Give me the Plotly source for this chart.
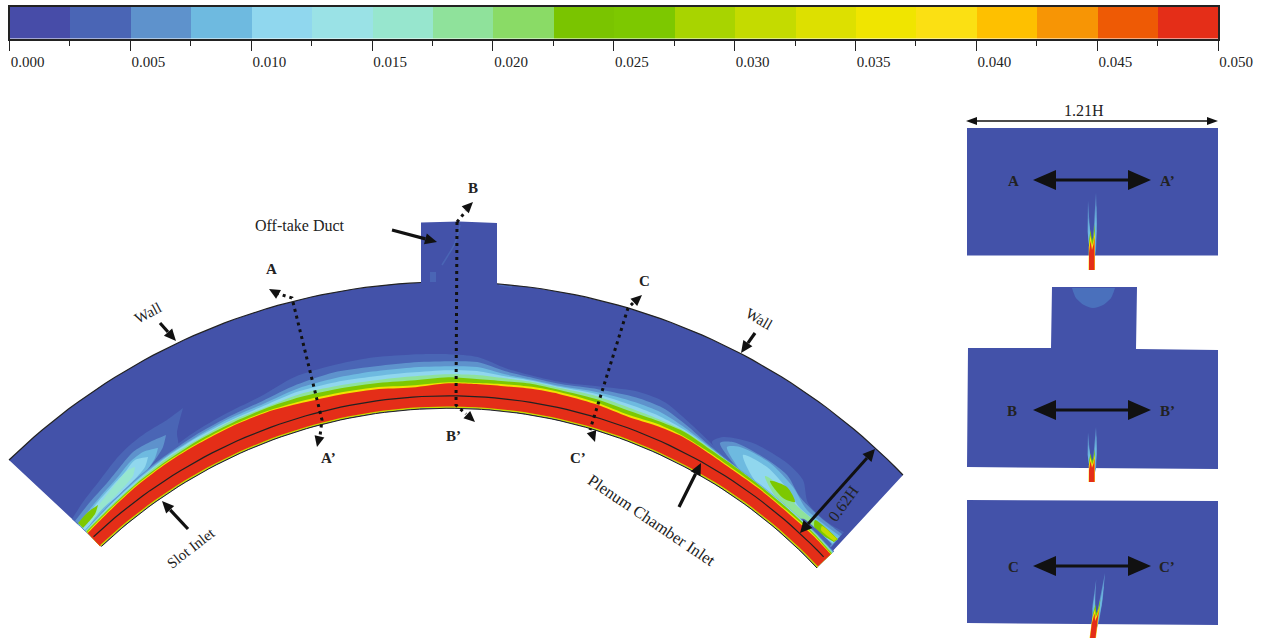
import math
import plotly.graph_objects as go

# ---------- colour scale ----------
LEVEL_COLORS = ["#474CA8", "#4A65B5", "#5E92CC", "#6EBAE0", "#90D7EE", "#9AE2E6", "#97E6CE", "#8FE29B", "#8ADB66", "#7AC400",
                "#7DC800", "#A8D400", "#C4DB00", "#DDE000", "#F0E500", "#FBE013", "#FEC000", "#F79505", "#EE5A05", "#E42E18"]
LEVEL_EDGES = [0.0025 * i for i in range(21)]
TICK_VALUES = [0.000, 0.005, 0.010, 0.015, 0.020, 0.025, 0.030, 0.035, 0.040, 0.045, 0.050]
TICK_LABELS = ["0.000", "0.005", "0.010", "0.015", "0.020", "0.025", "0.030", "0.035", "0.040", "0.045", "0.050"]

# ---------- arch geometry (picture units) ----------
CENTER = (448.5, 913.3)
R_INNER, R_OUTER, R_MID = 505, 631.4, 517.5
DOMAIN_BG = "#4352A9"
END_LEFT = [(9, 460), (102, 547)]
END_RIGHT = [(903, 475), (817, 568)]
DUCT_X = [421, 459, 497, 497, 421]
DUCT_Y = [222.5, 221.5, 223, 284, 284]

# band contours: angle from vertical, height of each level above the inner wall
THETA = [-43.5, -40, -36, -32, -28, -24, -20, -16, -12, -8, -4, 0, 3, 6, 9, 12, 16, 20, 23, 26, 29, 32, 36, 40, 44, 46.8]
H_FAINT = [24, 27, 31, 35, 39, 42, 45, 53, 55, 56, 55, 54, 52, 43, 39, 38, 43, 50, 50, 42, 34, 28, 26, 25, 25, 24]
H_MID = [23, 26, 30, 33, 36, 38, 40, 45, 48, 47, 47, 47, 47, 40, 37, 36, 40, 44, 44, 38, 31, 27, 25, 24, 24, 23]
H_LIGHT = [23, 25, 29, 32, 34, 36, 37, 41, 42, 42, 42, 42, 42, 37, 35, 34, 37, 39, 39, 35, 30, 26, 25, 24, 23, 23]
H_CYAN = [22, 25, 28, 31, 33, 34, 35, 38, 38, 37, 37, 38, 38, 35, 34, 33, 35, 35, 35, 33, 29, 26, 24, 24, 23, 22]
H_LTGREEN = [22, 24, 27, 30, 31, 33, 33, 35, 34, 33, 33, 34, 34, 33, 33, 32, 33, 32, 32, 32, 29, 26, 24, 23, 23, 22]
H_GREEN = [21, 23, 26, 28, 30, 31, 32, 32, 31, 30, 29, 31, 30, 30, 31, 30, 30, 29, 30, 31, 28, 26, 24, 23, 22, 21]
H_YELLOW = [20, 22, 25, 27, 28, 29, 29, 28, 27, 26, 24, 26, 26, 27, 28, 28, 27, 25, 27, 27, 25, 23, 22, 21, 21, 20]
H_RED = [19, 21, 24, 26, 27, 28, 28, 26, 25, 24, 22, 25, 25, 25, 26, 26, 25, 23, 25, 26, 24, 22, 21, 20, 20, 19.5]

# plumes (picture units); repeated points keep a sharp corner on the end edge
LEFT_PLUME = [
    (1, [(183, 408), (183, 408), (167, 420), (147, 432), (130, 445), (117, 458), (100, 480), (83, 502), (72, 519), (72, 519),
         (92, 537), (92, 537), (115, 510), (140, 482), (165, 457), (178, 445), (177, 433)]),
    (2, [(166, 435), (166, 435), (150, 442), (133, 452), (120, 467), (107, 483), (90, 502), (75, 521), (75, 521), (90, 535), (90, 535),
         (110, 510), (127, 492), (143, 475), (155, 460), (163, 447)]),
    (3, [(158, 448), (158, 448), (143, 452), (130, 462), (117, 478), (100, 497), (78, 524), (78, 524), (88, 533), (88, 533), (97, 518),
         (117, 500), (133, 484), (147, 470), (155, 458)]),
    (4, [(148, 457), (148, 457), (135, 460), (125, 472), (113, 485), (97, 503), (80, 526), (80, 526), (86, 531), (86, 531), (100, 511),
         (120, 494), (135, 479), (145, 467)]),
    (6, [(135, 467), (135, 467), (128, 470), (113, 487), (97, 507), (87, 518), (90, 522), (103, 508), (120, 491), (133, 476)]),
    (10, [(98, 505), (98, 505), (88, 512), (78, 523), (78, 523), (83, 528), (83, 528), (95, 514)]),
]
LEFT_GAP = [(118, 500), (118, 500), (87, 532), (87, 532), (90, 535), (90, 535), (122, 503), (122, 503)]
RIGHT_PLUME = [
    (1, [(712, 442), (723, 437), (753, 443), (787, 463), (803, 480), (808, 503), (827, 522), (844, 532), (844, 532), (831, 548), (831, 548), (800, 517), (767, 490), (733, 467)]),
    (2, [(720, 443), (733, 442), (763, 457), (787, 475), (800, 497), (820, 517), (842, 534), (842, 534), (831, 547), (831, 547), (793, 517), (760, 490), (733, 463)]),
    (3, [(727, 447), (740, 447), (770, 463), (793, 487), (807, 510), (840, 536), (840, 536), (832, 545), (832, 545), (787, 513), (753, 487), (733, 460)]),
    (4, [(743, 455), (767, 467), (788, 490), (800, 508), (838, 538), (838, 538), (833, 543), (833, 543), (777, 502), (753, 478)]),
    (7, [(765, 476), (783, 488), (797, 506), (838, 539), (838, 539), (834, 542), (834, 542), (795, 514), (775, 496)]),
    (10, [(770, 481), (787, 487), (795, 502), (783, 498)]),
    (10, [(815, 520), (838, 539), (838, 539), (834, 542), (834, 542), (815, 529)]),
    (12, [(822, 526), (837, 539), (837, 539), (834, 541), (834, 541), (821, 530)]),
]
RIGHT_GAP = [(800, 519), (800, 519), (829, 547), (829, 547), (832, 544), (832, 544), (804, 519)]
DUCT_MARKS = [[(460, 225), (455, 243), (447, 257), (442, 265)], [(499, 285), (512, 287)]]
DUCT_BLOB_X = [430, 436, 436, 430]
DUCT_BLOB_Y = [282, 282, 272, 272]

# side panels
PANEL_A = [(967, 128), (1218, 128), (1218, 255.5), (967, 255.5)]
PANEL_B = [(1052, 287), (1137, 287), (1136, 349), (1218, 350), (1218, 469), (967, 467), (968, 348), (1051, 348)]
PANEL_C = [(967, 500), (1218, 501), (1218, 625), (967, 623)]
BLOB_B = [(1072, 288), (1072, 288), (1076, 298), (1084, 305), (1093, 308), (1103, 305), (1111, 298), (1115, 288), (1115, 288)]

# jet layers: (colour level, points as sideways offset, fraction of jet height)
JET_LAYERS = [
    (2, [(-2, .2), (-4.5, .5), (-4, .9), (-2.5, .6), (0, .3)]),
    (2, [(0, .2), (2, .6), (4, 1.0), (5, .6), (4, .25), (2, .1)]),
    (3, [(-2, .2), (-4, .45), (-3.5, .68), (-2, .45), (0, .25)]),
    (3, [(1, .2), (3, .6), (4.2, .85), (4.5, .5), (3, .2)]),
    (10, [(-3, .18), (-3, .38), (-1.5, .52), (0, .38), (1.5, .44), (2.5, .6), (3, .4), (2.5, .2)]),
    (15, [(-3.5, 0), (-3.2, .3), (-1.5, .45), (0, .32), (1.5, .38), (2.7, .5), (3, .3), (3, 0)]),
    (19, [(-3, 0), (-3, .22), (-1.5, .38), (0, .26), (1.5, .33), (2.5, .43), (2.5, .25), (2.5, 0)]),
]
JETS = [(1092, 270, 77, 0), (1092, 482, 55, 0), (1093, 638, 65, 8)]

# annotation geometry
BLACK = "#111111"
DOT_A = [(276, 293), (292, 298), (322, 420), (320, 436)]
DOT_B = [(457, 222), (456, 405), (466, 414)]
DOT_B_TOP = [(457, 222), (466, 211)]
DOT_C = [(633, 303), (628, 308), (590, 430)]
DOT_HEADS = [((276, 293), (269, 289)), ((320, 434), (317, 447)), ((465, 413), (475, 422)),
             ((462, 213), (473, 202)), ((632, 304), (642, 295)), ((591, 430), (595, 442))]
ARROWS = [((392, 230), (437, 242)), ((160, 323), (176, 341)), ((755, 333), (741, 353)),
          ((188, 529), (162, 501)), ((679, 507), (701, 463))]
DOUBLE_LARGE = [((1033, 180), (1151, 180)), ((1033, 410), (1151, 410)), ((1033, 566), (1151, 566))]
DOUBLE_DIM = [((800, 533), (875, 449)), ((966, 121), (1218, 121))]

LABELS = [("Off-take Duct", 300, 225, 0, 16, False), ("Wall", 148, 313, -28, 15, False), ("Wall", 759, 319, 30, 15, False),
          ("Slot Inlet", 191, 548, -38, 15, False), ("Plenum Chamber Inlet", 652, 520, 34, 16.5, False),
          ("0.62H", 843, 503, -54, 16, False), ("1.21H", 1084, 110, 0, 16, False),
          ("A", 271, 269, 0, 15, True), ("B", 473, 188, 0, 15, True), ("C", 644, 281, 0, 15, True),
          ("A’", 328, 458, 0, 15, True), ("B’", 453, 436, 0, 15, True), ("C’", 578, 458, 0, 15, True),
          ("A", 1013, 181, 0, 15, True), ("A’", 1167, 181, 0, 15, True),
          ("B", 1012, 411, 0, 15, True), ("B’", 1167, 411, 0, 15, True),
          ("C", 1013, 567, 0, 15, True), ("C’", 1167, 567, 0, 15, True)]


# ---------- helpers ----------
def polar(theta, r):
    t = math.radians(theta)
    return CENTER[0] + r * math.sin(t), CENTER[1] - r * math.cos(t)


fig = go.Figure()


def poly(pts, color, spline=False):
    xs = [p[0] for p in pts] + [pts[0][0]]
    ys = [p[1] for p in pts] + [pts[0][1]]
    fig.add_trace(go.Scatter(x=xs, y=ys, mode="lines", fill="toself", fillcolor=color,
                             line=dict(width=0, color=color, shape="spline" if spline else "linear", smoothing=0.8),
                             hoverinfo="skip", showlegend=False))


def stroke(pts, color, width, dash=None, spline=False):
    fig.add_trace(go.Scatter(x=[p[0] for p in pts], y=[p[1] for p in pts], mode="lines",
                             line=dict(color=color, width=width, dash=dash, shape="spline" if spline else "linear"),
                             hoverinfo="skip", showlegend=False))


def head(start, tip, length, half):
    dx, dy = tip[0] - start[0], tip[1] - start[1]
    n = math.hypot(dx, dy)
    ux, uy = dx / n, dy / n
    bx, by = tip[0] - ux * length, tip[1] - uy * length
    poly([tip, (bx - uy * half, by + ux * half), (bx + uy * half, by - ux * half)], BLACK)
    return bx, by


def arc(t0, t1, r, step=1.0):
    n = max(2, int(abs(t1 - t0) / step))
    return [polar(t0 + (t1 - t0) * i / n, r) for i in range(n + 1)]


def band(heights, color):
    top = [polar(t, R_INNER + h) for t, h in zip(THETA, heights)]
    bottom = arc(THETA[-1], THETA[0], R_INNER + 1)
    top = [top[0]] + top + [top[-1]]
    poly(top + [bottom[0]] + bottom + [bottom[-1]], color, spline=True)


# ---------- colour bar ----------
fig.add_trace(go.Bar(x=[(a + b) / 2 for a, b in zip(LEVEL_EDGES[:-1], LEVEL_EDGES[1:])], y=[1] * 20,
                     width=[0.0025] * 20, marker=dict(color=LEVEL_COLORS, line=dict(width=0)),
                     xaxis="x2", yaxis="y2", hoverinfo="skip", showlegend=False))

# ---------- main arch ----------
a_left = math.degrees(math.atan2(END_LEFT[0][0] - CENTER[0], CENTER[1] - END_LEFT[0][1]))
a_right = math.degrees(math.atan2(END_RIGHT[0][0] - CENTER[0], CENTER[1] - END_RIGHT[0][1]))
b_left = math.degrees(math.atan2(END_LEFT[1][0] - CENTER[0], CENTER[1] - END_LEFT[1][1]))
b_right = math.degrees(math.atan2(END_RIGHT[1][0] - CENTER[0], CENTER[1] - END_RIGHT[1][1]))
poly(arc(a_left, a_right, R_OUTER) + arc(b_right, b_left, R_INNER), DOMAIN_BG)
poly(list(zip(DUCT_X, DUCT_Y)), DOMAIN_BG)
for m in DUCT_MARKS:
    stroke(m, LEVEL_COLORS[1], 1.5, spline=True)
poly(list(zip(DUCT_BLOB_X, DUCT_BLOB_Y)), LEVEL_COLORS[1])

band(H_FAINT, LEVEL_COLORS[1])
for level, pts in LEFT_PLUME + RIGHT_PLUME:
    poly(pts, LEVEL_COLORS[level], spline=True)
poly(LEFT_GAP, LEVEL_COLORS[1], spline=True)
poly(RIGHT_GAP, LEVEL_COLORS[1], spline=True)
band(H_MID, LEVEL_COLORS[2])
band(H_LIGHT, LEVEL_COLORS[3])
band(H_CYAN, LEVEL_COLORS[4])
band(H_LTGREEN, LEVEL_COLORS[7])
band(H_GREEN, LEVEL_COLORS[10])
band(H_YELLOW, LEVEL_COLORS[14])
band(H_RED, LEVEL_COLORS[19])

stroke(arc(b_left, b_right, R_INNER + 1.2), LEVEL_COLORS[12], 1.3)
stroke(arc(b_left, b_right, R_INNER), "#222222", 1)
stroke(arc(b_left + 0.1, b_right - 0.4, R_MID), "#222222", 1.2)
t_duct_l = math.degrees(math.asin((DUCT_X[0] - CENTER[0]) / R_OUTER))
t_duct_r = math.degrees(math.asin((DUCT_X[2] - CENTER[0]) / R_OUTER))
stroke(arc(a_left, t_duct_l, R_OUTER), "#222222", 1.2)
stroke(arc(t_duct_r, a_right, R_OUTER), "#222222", 1.2)

# ---------- side panels ----------
for panel in (PANEL_A, PANEL_B, PANEL_C):
    poly(panel, DOMAIN_BG)
poly(BLOB_B, "#4A70BC", spline=True)
for bx, by, height, lean in JETS:
    for level, pts in JET_LAYERS:
        poly([(bx + u + lean * v, by - height * v) for u, v in pts], LEVEL_COLORS[level])

# ---------- arrows, dotted section lines ----------
for line in (DOT_A, DOT_B, DOT_B_TOP, DOT_C):
    stroke(line, BLACK, 3, dash="3px,4px")
for s, t in DOT_HEADS:
    head(s, t, 11, 5)
for s, t in ARROWS:
    bx, by = head(s, t, 12, 5.5)
    stroke([s, (bx, by)], BLACK, 3.2)
for s, t in DOUBLE_LARGE:
    a = head(s, t, 23, 10)
    b = head(t, s, 23, 10)
    stroke([a, b], BLACK, 3.2)
for s, t in DOUBLE_DIM:
    thin = t[1] == s[1]
    a = head(s, t, 11 if thin else 12, 4 if thin else 6)
    b = head(t, s, 11 if thin else 12, 4 if thin else 6)
    stroke([a, b], BLACK, 1.5 if thin else 3)

annotations = [dict(text=("<b>%s</b>" % t) if bold else t, x=x, y=y, xref="x", yref="y", showarrow=False,
                    textangle=ang, font=dict(family="Liberation Serif", size=sz, color="#222222"))
               for t, x, y, ang, sz, bold in LABELS]

H, W = 641, 1262
fig.update_layout(
    width=W, height=H, margin=dict(l=0, r=0, t=0, b=0, autoexpand=False), paper_bgcolor="white", plot_bgcolor="white",
    showlegend=False, annotations=annotations, bargap=0,
    xaxis=dict(range=[0, W], visible=False, fixedrange=True, domain=[0, 1], automargin=False),
    yaxis=dict(range=[H, 0], visible=False, fixedrange=True, domain=[0, 1], automargin=False),
    xaxis2=dict(domain=[9.5 / W, 1218 / W], range=[0, 0.05], anchor="y2", tickmode="array", tickvals=TICK_VALUES,
                ticktext=TICK_LABELS, ticks="outside", ticklen=11, tickwidth=1, tickcolor="#222222",
                minor=dict(tickmode="array", tickvals=[0.0025 + 0.005 * i for i in range(10)], ticks="outside",
                           ticklen=6, tickwidth=1, tickcolor="#222222"),
                showline=True, linecolor="#222222", linewidth=1.5, mirror=True, showgrid=False, zeroline=False,
                automargin=False,
                ticklabelposition="outside right", ticklabeloverflow="allow", ticklabelstandoff=9,
                tickfont=dict(family="Liberation Serif", size=15, color="#222222"), fixedrange=True),
    yaxis2=dict(domain=[1 - 38.5 / H, 1 - 6.5 / H], range=[0, 1], anchor="x2", visible=True, showticklabels=False,
                ticks="", showgrid=False, zeroline=False, showline=True, linecolor="#222222", linewidth=1.5, mirror=True,
                automargin=False, fixedrange=True),
)
fig.write_html("out.html", config=dict(displayModeBar=False),
               post_script="document.body.style.margin='0';document.body.style.overflow='hidden';")
